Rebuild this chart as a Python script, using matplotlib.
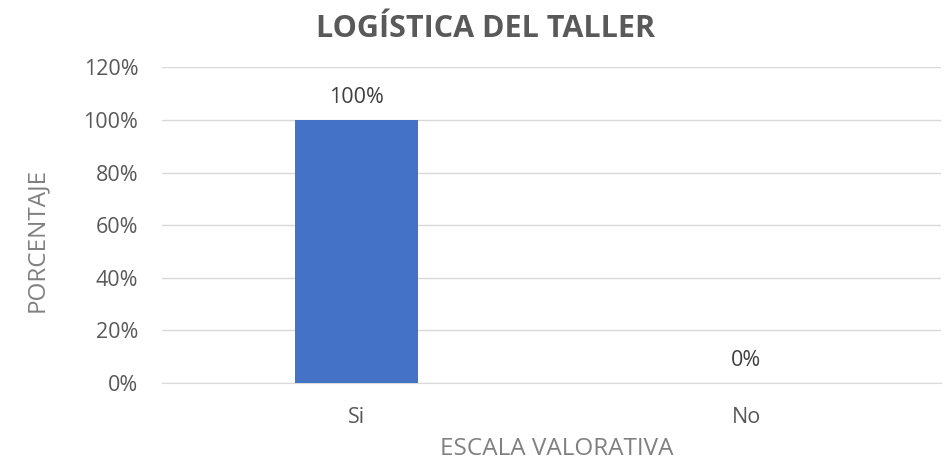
import matplotlib
matplotlib.use("Agg")
import matplotlib.pyplot as plt
from matplotlib.ticker import PercentFormatter

categorias = ["Si", "No"]
porcentajes = [100, 0]
ticks_y = [0, 20, 40, 60, 80, 100, 120]

gris = "#595959"
plt.rcParams["font.family"] = ["Open Sans", "DejaVu Sans"]

fig = plt.figure(figsize=(9.44, 4.62), dpi=100)
ax = fig.add_axes([0.1716, 0.171, 0.8252, 0.6829])

x = range(len(categorias))
ax.bar(x, porcentajes, width=0.317, color="#4472C4", zorder=3)
for xi, v in zip(x, porcentajes):
    ax.annotate(f"{v}%", (xi, v), xytext=(0, 12.5), textcoords="offset points",
                ha="center", va="baseline", fontsize=15.5, color="#404040")

ax.set_xlim(-0.5, 1.5)
ax.set_ylim(0, 120)
ax.set_yticks(ticks_y)
ax.yaxis.set_major_formatter(PercentFormatter(decimals=0))
ax.set_xticks(list(x))
ax.set_xticklabels(categorias)
ax.grid(axis="y", color="#D9D9D9", linewidth=1, zorder=0)
for s in ["top", "right", "left"]:
    ax.spines[s].set_visible(False)
ax.spines["bottom"].set_color("#D9D9D9")
ax.tick_params(axis="y", length=0, labelsize=15.5, colors=gris, pad=17)
ax.tick_params(axis="x", length=0, labelsize=15.5, colors=gris, pad=17)

fig.text(0.514, 0.92, "LOGÍSTICA DEL TALLER", fontsize=22, fontweight="bold",
         color=gris, ha="center", va="baseline")
fig.text(0.0387, 0.4805, "PORCENTAJE", fontsize=17.5, color="#808080",
         rotation=90, ha="center", va="center")
fig.text(0.59, 0.0152, "ESCALA VALORATIVA", fontsize=17.5, color="#808080",
         ha="center", va="baseline")

fig.savefig("out.png", dpi=100)
